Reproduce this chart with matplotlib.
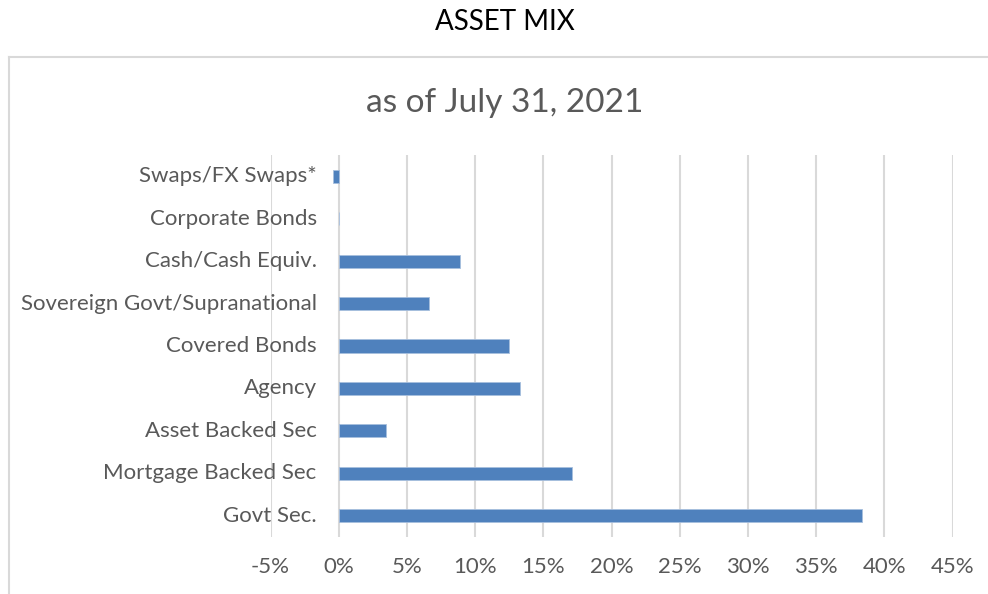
import matplotlib
matplotlib.use("Agg")
import matplotlib.pyplot as plt
import matplotlib.transforms as mtransforms
from matplotlib.lines import Line2D

plt.rcParams['font.family'] = ['Lato', 'DejaVu Sans']

# asset mix, percent of portfolio (bottom to top)
categories = ["Govt Sec.", "Mortgage Backed Sec", "Asset Backed Sec", "Agency",
              "Covered Bonds", "Sovereign Govt/Supranational", "Cash/Cash Equiv.",
              "Corporate Bonds", "Swaps/FX Swaps*"]
weights = [38.4, 17.1, 3.5, 13.3, 12.45, 6.65, 8.87, 0.03, -0.45]
xticks = [-5, 0, 5, 10, 15, 20, 25, 30, 35, 40, 45]

grey_txt = "#595959"
grid_col = "#D9D9D9"
bar_col = "#4F81BD"

fig = plt.figure(figsize=(9.88, 5.94), dpi=100)
ax = fig.add_axes([270.5 / 988, 1 - 537 / 594, (952.5 - 270.5) / 988, (537 - 155) / 594])

y = range(len(categories))
ax.barh(y, weights, height=0.31, color=bar_col, edgecolor="#A7BFDE", linewidth=0.6, zorder=3)

ax.set_xlim(-5, 45)
ax.set_ylim(-0.5, len(categories) - 0.5)
ax.set_xticks(xticks)
ax.set_xticklabels([f"{t}%" for t in xticks], color=grey_txt, fontsize=16)
ax.tick_params(axis="x", length=0, pad=14.5)
ax.set_yticks([])
ax.grid(axis="x", color=grid_col, linewidth=1.5, zorder=0)
for s in ax.spines.values():
    s.set_visible(False)

# category labels sit next to the 0% line
off = mtransforms.offset_copy(ax.transData, fig=fig, x=-22, y=0, units="dots")
for i, c in enumerate(categories):
    ax.text(0, i, c, transform=off, ha="right", va="center", color=grey_txt, fontsize=16)

fig.text(505 / 988, 1 - 103 / 594, "as of July 31, 2021", ha="center", va="center",
         color=grey_txt, fontsize=24)
fig.text(505 / 988, 1 - 22 / 594, "ASSET MIX", ha="center", va="center",
         color="black", fontsize=20)

# chart frame, open on the right and bottom
fig.add_artist(Line2D([8.5 / 988, 8.5 / 988], [0, 1 - 56.5 / 594], color=grid_col, linewidth=1.5))
fig.add_artist(Line2D([8.5 / 988, 1], [1 - 56.5 / 594, 1 - 56.5 / 594], color=grid_col, linewidth=1.5))

fig.savefig("out.png", dpi=100)
